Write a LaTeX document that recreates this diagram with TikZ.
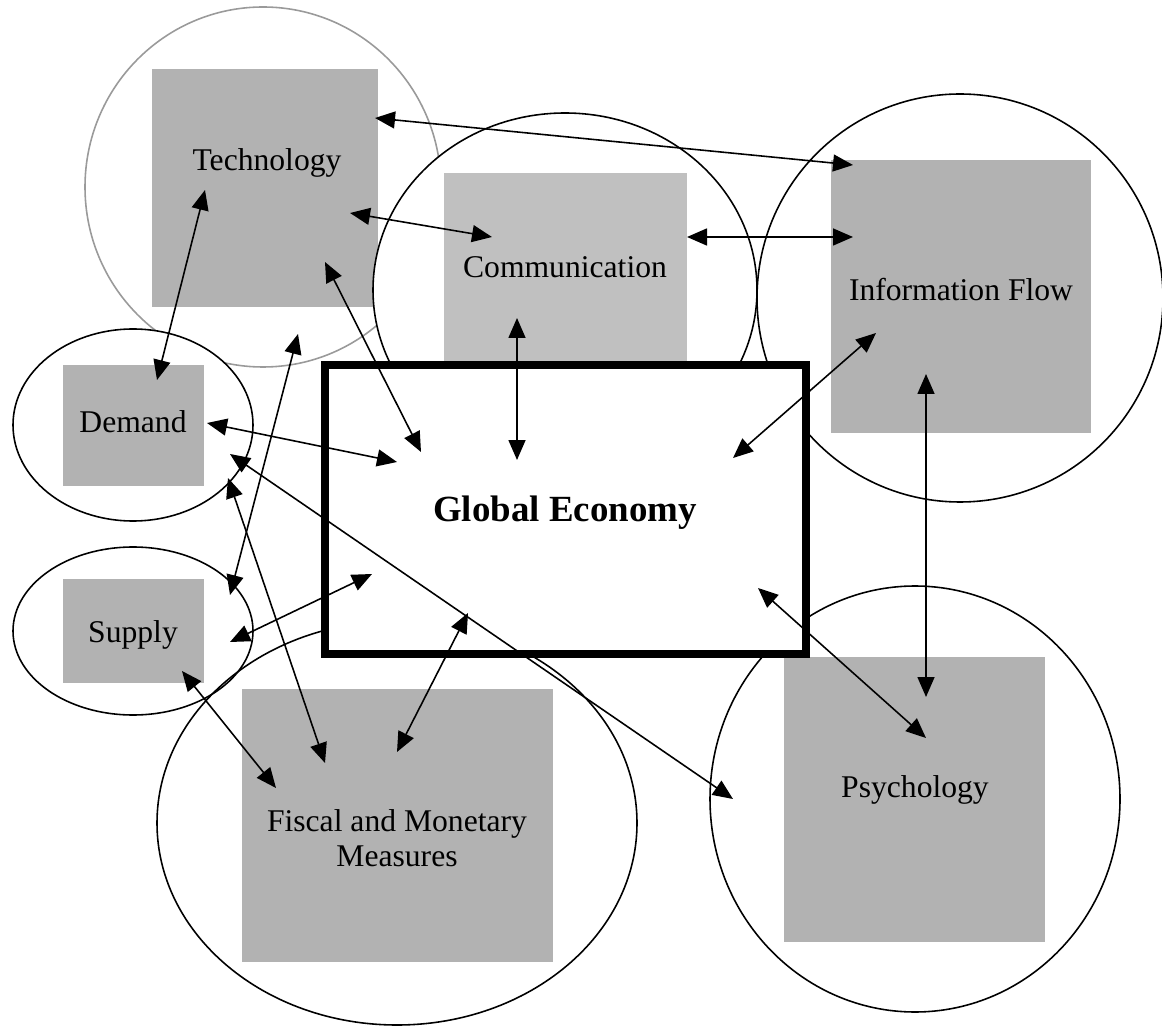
\documentclass[tikz,border=0pt]{standalone}
\usepackage{fontspec}
\setmainfont{Liberation Serif}
\usetikzlibrary{arrows.meta}
\definecolor{panelgray}{HTML}{B2B2B2}
\definecolor{commgray}{HTML}{C0C0C0}
\definecolor{ringgray}{HTML}{9A9A9A}

\begin{document}
\begin{tikzpicture}[x=0.02cm,y=-0.02cm,
    ring/.style={draw=black,line width=0.9pt,fill=white},
    openring/.style={draw=black,line width=0.9pt},
    panel/.style={fill=panelgray},
    lbl/.style={font=\fontsize{18}{20}\selectfont,align=center,inner sep=0pt},
    link/.style={line width=0.9pt,{Triangle[length=4mm,width=3.4mm]}-{Triangle[length=4mm,width=3.4mm]}}]
    \useasboundingbox (0,0) rectangle (1162,1026);

    % Technology
    \draw[line width=0.9pt,draw=ringgray,fill=white] (263,187) ellipse [x radius=178,y radius=180];
    \fill[panel] (152,69) rectangle (378,307);
    % Communication
    \draw[ring] (565,290) ellipse [x radius=192,y radius=177];
    \fill[commgray] (444,173) rectangle (687,370);
    % Information Flow
    \draw[ring] (960,298) ellipse [x radius=203,y radius=204];
    \fill[panel] (831,160) rectangle (1091,433);
    % Demand and Supply
    \draw[ring] (133,425) ellipse [x radius=120,y radius=96];
    \fill[panel] (63,365) rectangle (204,486);
    \draw[ring] (133,631) ellipse [x radius=120,y radius=84];
    \fill[panel] (63,579) rectangle (204,683);
    % Fiscal and Monetary Measures
    \draw[openring] (397,823) ellipse [x radius=240,y radius=202];
    \fill[panel] (242,689) rectangle (553,962);
    % Psychology
    \draw[openring] (915,799) ellipse [x radius=205,y radius=213];
    \fill[panel] (784,657) rectangle (1045,942);
    % Global Economy
    \draw[line width=4pt,fill=white] (325,365) rectangle (806,654);

    % labels
    \node[lbl] (tech) at (267,163) {Technology};
    \node[lbl] (comm) at (565,267) {Communication};
    \node[lbl] (info) at (961,290) {Information Flow};
    \node[lbl] (demand) at (133,422) {Demand};
    \node[lbl] (supply) at (133,635) {Supply};
    \node[lbl] (fiscal) at (397,838) {Fiscal and Monetary\\Measures};
    \node[lbl] (psych) at (915,790) {Psychology};
    \node[lbl,font=\fontsize{21}{24}\selectfont\bfseries] (global) at (565,513) {Global Economy};

    % arrow ends
    \coordinate (tech-info) at (375,118);  \coordinate (info-tech) at (853,165);
    \coordinate (tech-comm) at (350,213);  \coordinate (comm-tech) at (492,237);
    \coordinate (comm-info) at (687,237);  \coordinate (info-comm) at (853,237);
    \coordinate (tech-glob) at (325,262);  \coordinate (glob-tech) at (421,452);
    \coordinate (tech-dem) at (205,190);   \coordinate (dem-tech) at (157,380);
    \coordinate (tech-sup) at (298,334);   \coordinate (sup-tech) at (230,595);
    \coordinate (dem-glob) at (207,423);   \coordinate (glob-dem) at (397,462);
    \coordinate (dem-psych) at (230,454);  \coordinate (psych-dem) at (733,799);
    \coordinate (dem-fisc) at (228,478);   \coordinate (fisc-dem) at (325,763);
    \coordinate (sup-glob) at (230,642);   \coordinate (glob-sup) at (372,574);
    \coordinate (sup-fisc) at (182,671);   \coordinate (fisc-sup) at (276,788);
    \coordinate (fisc-glob) at (397,752);  \coordinate (glob-fisc) at (468,613);
    \coordinate (comm-glob) at (517,318);  \coordinate (glob-comm) at (517,460);
    \coordinate (info-glob) at (876,333);  \coordinate (glob-info) at (733,458);
    \coordinate (info-psych) at (926,374); \coordinate (psych-info) at (926,697);
    \coordinate (glob-psych) at (758,588); \coordinate (psych-glob) at (926,738);

    % links
    \draw[link] (tech-info) -- (info-tech);
    \draw[link] (tech-comm) -- (comm-tech);
    \draw[link] (comm-info) -- (info-comm);
    \draw[link] (tech-glob) -- (glob-tech);
    \draw[link] (tech-dem) -- (dem-tech);
    \draw[link] (tech-sup) -- (sup-tech);
    \draw[link] (dem-glob) -- (glob-dem);
    \draw[link] (dem-psych) -- (psych-dem);
    \draw[link] (dem-fisc) -- (fisc-dem);
    \draw[link] (sup-glob) -- (glob-sup);
    \draw[link] (sup-fisc) -- (fisc-sup);
    \draw[link] (fisc-glob) -- (glob-fisc);
    \draw[link] (comm-glob) -- (glob-comm);
    \draw[link] (info-glob) -- (glob-info);
    \draw[link] (info-psych) -- (psych-info);
    \draw[link] (glob-psych) -- (psych-glob);
\end{tikzpicture}
\end{document}
